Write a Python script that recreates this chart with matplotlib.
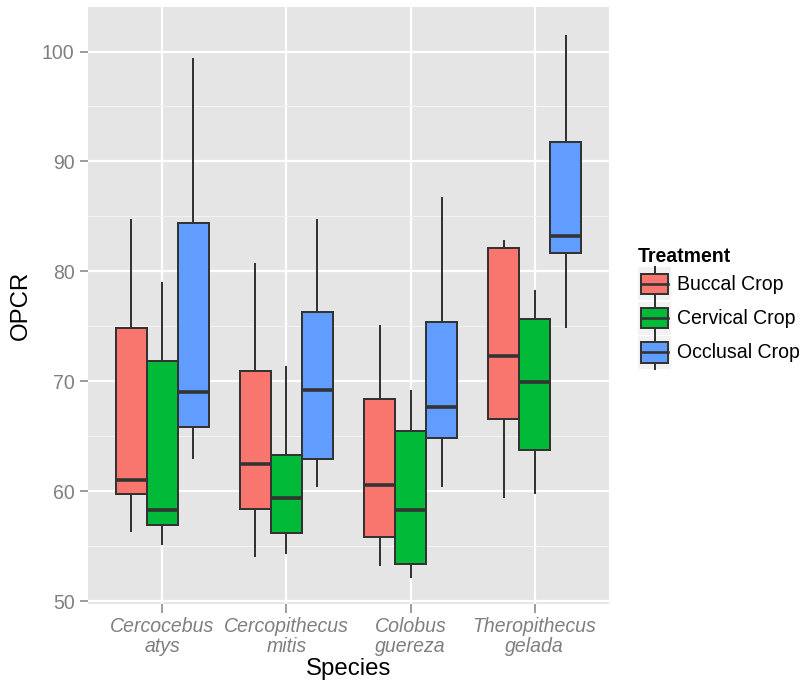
import matplotlib
matplotlib.use("Agg")
import matplotlib.pyplot as plt
from matplotlib.patches import Rectangle
from matplotlib.lines import Line2D
from matplotlib.legend_handler import HandlerBase

plt.rcParams['font.family'] = ['Liberation Sans', 'DejaVu Sans']

# ---- data -------------------------------------------------------------
species = ["Cercocebus\natys", "Cercopithecus\nmitis",
           "Colobus\nguereza", "Theropithecus\ngelada"]
treatments = ["Buccal Crop", "Cervical Crop", "Occlusal Crop"]
colors = ["#F8766D", "#00BA38", "#619CFF"]

buccal_whislo = [56.4, 54.1, 53.3, 59.5]
buccal_q1 = [59.7, 58.4, 55.8, 66.6]
buccal_med = [61.0, 62.5, 60.6, 72.3]
buccal_q3 = [74.8, 70.9, 68.4, 82.1]
buccal_whishi = [84.7, 80.7, 75.0, 82.8]

cervical_whislo = [55.15, 54.4, 52.2, 59.8]
cervical_q1 = [56.9, 56.2, 53.4, 63.7]
cervical_med = [58.25, 59.4, 58.3, 69.9]
cervical_q3 = [71.8, 63.3, 65.5, 75.7]
cervical_whishi = [78.9, 71.25, 69.15, 78.2]

occlusal_whislo = [63.0, 60.5, 60.5, 74.9]
occlusal_q1 = [65.85, 62.9, 64.8, 81.7]
occlusal_med = [69.0, 69.2, 67.7, 83.2]
occlusal_q3 = [84.4, 76.3, 75.4, 91.8]
occlusal_whishi = [99.35, 84.7, 86.7, 101.4]

yticks = [50, 60, 70, 80, 90, 100]
yminor = [55, 65, 75, 85, 95]

series = [
    (buccal_whislo, buccal_q1, buccal_med, buccal_q3, buccal_whishi),
    (cervical_whislo, cervical_q1, cervical_med, cervical_q3, cervical_whishi),
    (occlusal_whislo, occlusal_q1, occlusal_med, occlusal_q3, occlusal_whishi),
]

# ---- figure -----------------------------------------------------------
W, H = 809, 687
DPI = 72
fig = plt.figure(figsize=(W / DPI, H / DPI), dpi=DPI)
ax = fig.add_axes([88 / W, 1 - 604 / H, (609 - 88) / W, (604 - 7) / H])

edge = "#333333"
ax.set_facecolor("#E5E5E5")
for s in ax.spines.values():
    s.set_visible(False)

dodge = 0.75
bw = dodge / len(treatments)
for j, (lo, q1, med, q3, hi) in enumerate(series):
    stats = []
    for i in range(len(species)):
        stats.append(dict(whislo=lo[i], q1=q1[i], med=med[i], q3=q3[i],
                          whishi=hi[i], fliers=[]))
    pos = [i + 1 + (j - 1) * bw for i in range(len(species))]
    ax.bxp(stats, positions=pos, widths=bw, patch_artist=True,
           showfliers=False, showcaps=False,
           boxprops=dict(facecolor=colors[j], edgecolor=edge, linewidth=2),
           whiskerprops=dict(color=edge, linewidth=2),
           medianprops=dict(color=edge, linewidth=3.6, solid_capstyle="butt"),
           manage_ticks=False)

ax.set_xlim(0.4, len(species) + 0.6)
ax.set_ylim(49.73, 104.05)
ax.set_xticks(range(1, len(species) + 1))
ax.set_xticklabels(species, fontstyle="italic", linespacing=1.0)
ax.set_yticks(yticks)
ax.set_yticks(yminor, minor=True)

ax.set_axisbelow(True)
ax.grid(which="major", color="white", linewidth=2.2)
ax.grid(which="minor", axis="y", color="#F2F2F2", linewidth=1.1)

ax.tick_params(which="major", length=8.5, width=1.5, color="#7F7F7F",
               labelcolor="#7F7F7F", labelsize=19.5, pad=5)
ax.tick_params(which="minor", length=0)

ax.set_xlabel("Species", fontsize=24, labelpad=3)
ax.set_ylabel("OPCR", fontsize=24, labelpad=10)


# ---- legend: mini boxplot glyphs on a grey key ------------------------
class BoxKey(HandlerBase):
    def create_artists(self, legend, orig_handle, xdescent, ydescent,
                       width, height, fontsize, trans):
        x0, y0 = -xdescent, -ydescent
        bg = Rectangle((x0, y0), width, height, facecolor="#F2F2F2",
                       edgecolor="none", transform=trans)
        cx = x0 + width / 2
        wl = Line2D([cx, cx], [y0, y0 + height], color=edge, lw=2,
                    transform=trans)
        bx = Rectangle((x0 + 0.09 * width, y0 + 0.19 * height),
                       0.82 * width, 0.62 * height,
                       facecolor=orig_handle.get_facecolor(),
                       edgecolor=edge, linewidth=2, transform=trans)
        md = Line2D([x0 + 0.09 * width, x0 + 0.91 * width],
                    [y0 + height / 2, y0 + height / 2], color=edge, lw=2.6,
                    transform=trans)
        return [bg, wl, bx, md]


handles = [Rectangle((0, 0), 1, 1, facecolor=c) for c in colors]
leg = fig.legend(handles, treatments, handler_map={Rectangle: BoxKey()},
                 loc="center left", bbox_to_anchor=(638 / W, 1 - 308 / H),
                 frameon=False, borderpad=0, borderaxespad=0,
                 fontsize=19.5, handlelength=1.7, handleheight=2.23,
                 labelspacing=0.06, handletextpad=0.3,
                 title="Treatment", alignment="left",
                 title_fontproperties=dict(weight="bold", size=19.5))

fig.savefig("out.png", dpi=DPI)
